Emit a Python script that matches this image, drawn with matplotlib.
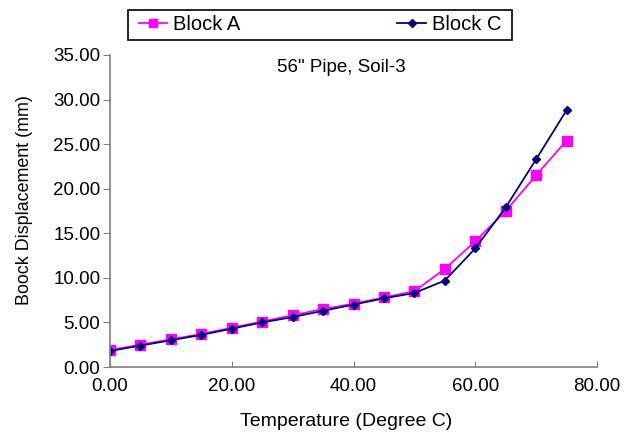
import matplotlib
matplotlib.use('Agg')
import matplotlib.pyplot as plt
from matplotlib.patches import Rectangle

plt.rcParams['font.family'] = ['Liberation Sans', 'DejaVu Sans']

temperature = [0, 5, 10, 15, 20, 25, 30, 35, 40, 45, 50, 55, 60, 65, 70, 75]
block_a = [1.9, 2.5, 3.1, 3.7, 4.4, 5.1, 5.8, 6.5, 7.1, 7.8, 8.5, 11.0, 14.1, 17.5, 21.5, 25.4]
block_c = [1.8, 2.4, 3.0, 3.6, 4.3, 5.0, 5.6, 6.3, 7.0, 7.7, 8.3, 9.7, 13.3, 17.9, 23.3, 28.8]

fig = plt.figure(figsize=(6.32, 4.37), dpi=100)
ax = fig.add_axes([110 / 632, 1 - 367 / 437, 487 / 632, 312 / 437])

la, = ax.plot(temperature, block_a, color='#ff00ff', marker='s', markersize=6.5, linewidth=1.3)
lc, = ax.plot(temperature, block_c, color='#000080', marker='D', markersize=4.5, linewidth=1.3)

ax.set_xlim(0, 80)
ax.set_ylim(0, 35)
ax.set_xticks(range(0, 81, 20))
ax.set_xticklabels(['%.2f' % v for v in range(0, 81, 20)])
ax.set_yticks(range(0, 36, 5))
ax.set_yticklabels(['%.2f' % v for v in range(0, 36, 5)])
for s in ['top', 'right']:
    ax.spines[s].set_visible(False)
for s in ['left', 'bottom']:
    ax.spines[s].set_color('#808080')
    ax.spines[s].set_linewidth(1.2)
ax.tick_params(labelsize=13.5, color='#808080')
ax.tick_params(axis='x', direction='in', length=4, pad=8)
ax.tick_params(axis='y', direction='out', length=5, pad=2)

ax.set_xlabel('Temperature (Degree C)', fontsize=14)
ax.xaxis.set_label_coords((346 - 110) / 487, (367 - 413) / 312)
ax.set_ylabel('Boock Displacement (mm)', fontsize=12.9)
ax.yaxis.set_label_coords((33 - 110) / 487, (367 - 200) / 312)
ax.text((341 - 110) / 487, (367 - 68) / 312, '56" Pipe, Soil-3', transform=ax.transAxes,
        ha='center', va='center', fontsize=13.5)

# legend entries without frame, box drawn separately
fig.legend([la, lc], ['Block A', 'Block C'], loc='center',
           bbox_to_anchor=(((128 + 512) / 2) / 632, 1 - 25 / 437), ncol=2,
           fontsize=14.5, frameon=False,
           handlelength=1.4, handletextpad=0.3, columnspacing=7.8,
           borderpad=0.25, markerscale=0.85)
fig.patches.append(Rectangle((128 / 632, 1 - 40 / 437), 384 / 632, 30 / 437,
                             transform=fig.transFigure, fill=False,
                             edgecolor='black', linewidth=1.2))

fig.savefig('out.png', dpi=100)
